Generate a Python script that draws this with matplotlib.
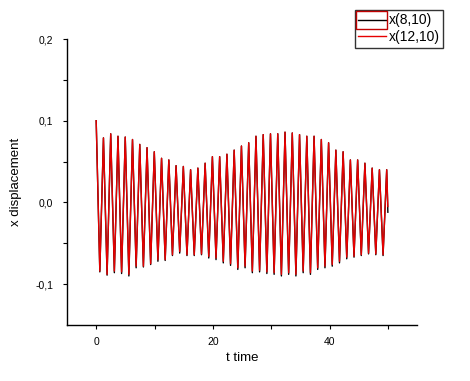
import numpy as np
import matplotlib
matplotlib.use("Agg")
import matplotlib.pyplot as plt
from matplotlib.lines import Line2D
from matplotlib.patches import Rectangle

plt.rcParams['font.family'] = ['Liberation Sans', 'DejaVu Sans']

period = 1.245
t_end = 50.0

# red curve x(12,10): successive maxima and minima
red_peaks = [0.100, 0.079, 0.084, 0.081, 0.080, 0.077, 0.071, 0.067, 0.062, 0.054,
             0.052, 0.045, 0.044, 0.040, 0.042, 0.048, 0.056, 0.056, 0.059, 0.064,
             0.069, 0.073, 0.081, 0.083, 0.084, 0.084, 0.086, 0.085, 0.083, 0.081,
             0.081, 0.077, 0.073, 0.064, 0.062, 0.052, 0.052, 0.048, 0.042, 0.040,
             0.040]
red_troughs = [-0.084, -0.088, -0.084, -0.085, -0.088, -0.078, -0.078, -0.075, -0.070, -0.070,
               -0.064, -0.060, -0.064, -0.064, -0.063, -0.066, -0.068, -0.072, -0.075, -0.080,
               -0.078, -0.084, -0.083, -0.085, -0.086, -0.088, -0.086, -0.088, -0.084, -0.086,
               -0.080, -0.078, -0.076, -0.072, -0.067, -0.066, -0.064, -0.062, -0.063, -0.064]
red_last = -0.005

# black curve x(8,10): nearly the same, a little deeper at the minima
black_peaks = [0.100, 0.079, 0.084, 0.081, 0.080, 0.077, 0.071, 0.067, 0.062, 0.054,
               0.052, 0.045, 0.044, 0.040, 0.042, 0.048, 0.056, 0.056, 0.059, 0.064,
               0.069, 0.073, 0.081, 0.083, 0.084, 0.084, 0.086, 0.085, 0.083, 0.081,
               0.081, 0.077, 0.073, 0.064, 0.062, 0.052, 0.052, 0.048, 0.042, 0.040,
               0.040]
black_troughs = [-0.085, -0.089, -0.086, -0.087, -0.090, -0.080, -0.079, -0.076, -0.072, -0.071,
                 -0.065, -0.062, -0.065, -0.065, -0.064, -0.068, -0.070, -0.074, -0.077, -0.082,
                 -0.080, -0.086, -0.085, -0.087, -0.088, -0.090, -0.088, -0.090, -0.086, -0.088,
                 -0.082, -0.080, -0.078, -0.074, -0.069, -0.067, -0.065, -0.063, -0.064, -0.065]
black_last = -0.012

ytick_vals = [-0.1, 0.0, 0.1, 0.2]
ytick_labels = ["-0,1", "0,0", "0,1", "0,2"]
xtick_vals = [0, 20, 40]
labels = ["x(8,10)", "x(12,10)"]


def build(peaks, troughs, last):
    t, v = [], []
    for k, p in enumerate(peaks):
        t.append(k * period)
        v.append(p)
        if k < len(troughs):
            t.append(k * period + period / 2)
            v.append(troughs[k])
    t.append(t_end)
    v.append(last)
    return np.array(t), np.array(v)


tb, xb = build(black_peaks, black_troughs, black_last)
tr, xr = build(red_peaks, red_troughs, red_last)

fig = plt.figure(figsize=(4.7, 3.81), dpi=100)
ax = fig.add_axes([0.1426, 0.147, 0.7447, 0.7506])

ax.plot(tb, xb, color="black", lw=1.0)
ax.plot(tr, xr, color="#e60000", lw=1.0)

ax.set_xlim(-5, 55)
ax.set_ylim(-0.15, 0.2)
ax.spines['top'].set_visible(False)
ax.spines['right'].set_visible(False)
for s in ['left', 'bottom']:
    ax.spines[s].set_linewidth(1.0)

ax.set_xticks(xtick_vals)
ax.set_xticks([10, 30, 50], minor=True)
ax.set_yticks(ytick_vals)
ax.set_yticklabels(ytick_labels)
ax.set_yticks([-0.05, 0.05, 0.15], minor=True)
ax.tick_params(which='both', direction='out', length=3, width=0.8, labelsize=7.5,
               colors='black')
ax.tick_params(axis='y', pad=7)
ax.tick_params(axis='x', pad=6)

ax.set_xlabel("t time", fontsize=9.5)
ax.set_ylabel("x displacement", fontsize=9.5)
ax.xaxis.set_label_coords(0.5, -0.094)
ax.yaxis.set_label_coords(-0.129, 0.5)

handles = [Line2D([], [], color="black", lw=1.0),
           Line2D([], [], color="#e60000", lw=1.0)]
leg = fig.legend(handles, labels, loc="upper right",
                 bbox_to_anchor=(443 / 470, 1 - 10 / 381),
                 fontsize=10, frameon=True, fancybox=False, shadow=False,
                 handlelength=2.0, handletextpad=0.2, borderpad=0.25,
                 labelspacing=0.2, borderaxespad=0)
leg.get_frame().set_edgecolor("black")
leg.get_frame().set_linewidth(1.0)

# selection box around the first legend sample
fig.canvas.draw()
renderer = fig.canvas.get_renderer()
inv = fig.transFigure.inverted()
lb = leg.get_window_extent(renderer)
hb = leg.legend_handles[0].get_window_extent(renderer)
x0, y1 = inv.transform((lb.x0 + 1, lb.y1 - 1))
x1, _ = inv.transform((hb.x1 + 1, 0))
_, ymid = inv.transform((0, lb.y0 + lb.height * 0.5))
fig.patches.append(Rectangle((x0, ymid), x1 - x0, y1 - ymid,
                             transform=fig.transFigure, fill=False,
                             edgecolor="#c00000", lw=1.0, zorder=20))

fig.savefig("out.png", dpi=100)
